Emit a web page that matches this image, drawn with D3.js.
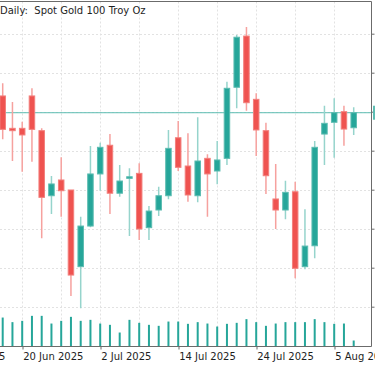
<!DOCTYPE html>
<html>
<head>
<meta charset="utf-8">
<script src="https://cdn.jsdelivr.net/npm/d3@7"></script>
<style>
  html, body { margin: 0; padding: 0; background: #ffffff; }
  svg { display: block; }
  text { font-family: "DejaVu Sans", sans-serif; font-size: 10px; fill: #1e1e1e; }
</style>
</head>
<body>
<div id="chart"></div>
<script>
// daily bars, Spot Gold
var dates = ["2025-06-18", "2025-06-19", "2025-06-20", "2025-06-23", "2025-06-24", "2025-06-25", "2025-06-26",
    "2025-06-27", "2025-06-30", "2025-07-01", "2025-07-02", "2025-07-03", "2025-07-04", "2025-07-07",
    "2025-07-08", "2025-07-09", "2025-07-10", "2025-07-11", "2025-07-14", "2025-07-15", "2025-07-16",
    "2025-07-17", "2025-07-18", "2025-07-21", "2025-07-22", "2025-07-23", "2025-07-24", "2025-07-25",
    "2025-07-28", "2025-07-29", "2025-07-30", "2025-07-31", "2025-08-01", "2025-08-04", "2025-08-05",
    "2025-08-06", "2025-08-07"];

var opens = [3392.2, 3370.2, 3370.2, 3392.2, 3368.6, 3324.4, 3335.1, 3328.3, 3276.2, 3303.8, 3339.2, 3358.7,
    3326.1, 3336.2, 3339.6, 3302.7, 3314.7, 3324.4, 3363.8, 3344.6, 3324.4, 3349.8, 3341.2, 3349.8, 3398.1,
    3432.9, 3389.9, 3368.6, 3322.2, 3314.7, 3327.1, 3276.2, 3290.4, 3366.3, 3374.3, 3381.5, 3370.6];
var highs = [3400.8, 3388.1, 3374.7, 3397.4, 3370.2, 3337.8, 3350.5, 3328.3, 3310.2, 3358.2, 3360.4, 3366.3,
    3345.3, 3343.0, 3346.4, 3317.4, 3330.5, 3369.1, 3375.2, 3366.8, 3377.7, 3352.6, 3361.6, 3401.9, 3433.6,
    3439.1, 3394.0, 3374.0, 3346.0, 3334.6, 3333.9, 3315.2, 3361.6, 3385.6, 3390.6, 3385.6, 3384.5];
var lows = [3362.8, 3348.0, 3340.7, 3347.5, 3295.5, 3312.0, 3310.2, 3256.3, 3247.9, 3302.9, 3327.8, 3312.0,
    3323.7, 3297.0, 3294.3, 3294.3, 3310.6, 3322.0, 3341.2, 3320.3, 3319.9, 3310.2, 3332.2, 3345.3, 3383.8,
    3382.2, 3351.4, 3325.6, 3301.8, 3308.4, 3268.3, 3274.4, 3281.9, 3345.3, 3350.2, 3358.4, 3365.7];
var closes = [3369.5, 3368.6, 3365.7, 3369.5, 3323.3, 3332.4, 3327.8, 3270.5, 3303.8, 3339.2, 3357.3, 3326.1,
    3334.4, 3337.3, 3301.8, 3314.0, 3324.4, 3356.6, 3343.7, 3324.9, 3348.0, 3339.2, 3348.7, 3397.4, 3432.1,
    3387.6, 3369.1, 3338.0, 3314.7, 3326.7, 3275.1, 3290.2, 3357.3, 3373.6, 3380.8, 3369.7, 3380.8];
var volumes = [116000, 97600, 102800, 122800, 122800, 92000, 102800, 118800, 102800, 106800, 92000, 86800,
    56000, 106800, 94800, 86800, 82800, 100000, 100000, 90800, 97600, 92000, 80000, 90800, 94800, 109600,
    97600, 82800, 92000, 97600, 97600, 97600, 109600, 97600, 90800, 92000, 24000];

// bar index of each date label (10 Jun sits left of the first bar)
var labelIndex = [-6, 2, 10, 18, 26, 34];
var labelText = ["10 Jun 2025", "20 Jun 2025", "2 Jul 2025", "14 Jul 2025", "24 Jul 2025", "5 Aug 2025"];
var gridPrices = [3434.5, 3408, 3381.5, 3355, 3328.5, 3302, 3275.5, 3249];
var gridIndex = [-2, 2, 6, 10, 14, 18, 22, 26, 30, 34];

var chartTitle = "Daily:  Spot Gold 100 Troy Oz";

var svgWidth = 375;
var svgHeight = 366;
var plot = { left: 0, top: 1.5, right: 371.5, bottom: 346.5 };

var upColor = "#26a69a";
var downColor = "#ef5350";

var bars = dates.map(function(d, i) {
    return { date: d, i: i, open: opens[i], high: highs[i], low: lows[i], close: closes[i], volume: volumes[i] };
});

var svg = d3.select("#chart")
    .append("svg")
    .attr("width", svgWidth)
    .attr("height", svgHeight);

var xScale = d3.scaleLinear()
    .domain([0, 36])
    .range([2.7, 353.7]);

var yScale = d3.scaleLinear()
    .domain([3230, 3460])
    .range([334.66, -3.83]);

var volScale = d3.scaleLinear()
    .domain([0, 125000])
    .range([plot.bottom, plot.bottom - 31.2]);

svg.append("defs").append("clipPath")
    .attr("id", "plotClip")
    .append("rect")
    .attr("x", plot.left)
    .attr("y", plot.top)
    .attr("width", plot.right - plot.left)
    .attr("height", plot.bottom - plot.top);

var chartGroup = svg.append("g").attr("clip-path", "url(#plotClip)");

// dotted grid
chartGroup.selectAll(".hgrid")
    .data(gridPrices)
    .enter()
    .append("line")
    .attr("class", "hgrid")
    .attr("x1", plot.left)
    .attr("x2", plot.right)
    .attr("y1", d => Math.round(yScale(d)) + 0.5)
    .attr("y2", d => Math.round(yScale(d)) + 0.5)
    .attr("stroke", "#e2e2e2")
    .attr("stroke-dasharray", "2,2");

chartGroup.selectAll(".vgrid")
    .data(gridIndex)
    .enter()
    .append("line")
    .attr("class", "vgrid")
    .attr("x1", d => Math.round(xScale(d)) + 0.5)
    .attr("x2", d => Math.round(xScale(d)) + 0.5)
    .attr("y1", plot.top)
    .attr("y2", plot.bottom)
    .attr("stroke", "#e2e2e2")
    .attr("stroke-dasharray", "2,2");

// tick volumes
chartGroup.selectAll(".vol")
    .data(bars)
    .enter()
    .append("rect")
    .attr("class", "vol")
    .attr("x", d => xScale(d.i) - 1)
    .attr("y", d => volScale(d.volume))
    .attr("width", 2)
    .attr("height", d => plot.bottom - volScale(d.volume))
    .attr("fill", upColor);

// bid line
var lastClose = closes[closes.length - 1];
chartGroup.append("line")
    .attr("x1", plot.left)
    .attr("x2", plot.right)
    .attr("y1", yScale(lastClose))
    .attr("y2", yScale(lastClose))
    .attr("stroke", "#5dbdb3")
    .attr("stroke-width", 1);

// candles
var candles = chartGroup.selectAll(".candle")
    .data(bars)
    .enter()
    .append("g")
    .attr("class", "candle");

candles.append("line")
    .attr("x1", d => xScale(d.i))
    .attr("x2", d => xScale(d.i))
    .attr("y1", d => yScale(d.high))
    .attr("y2", d => yScale(d.low))
    .attr("stroke", d => d.close >= d.open ? "#96d4cc" : "#f6a19e")
    .attr("stroke-width", 1.5);

candles.append("rect")
    .attr("x", d => xScale(d.i) - 2.75)
    .attr("y", d => yScale(Math.max(d.open, d.close)))
    .attr("width", 5.5)
    .attr("height", d => Math.max(1, yScale(Math.min(d.open, d.close)) - yScale(Math.max(d.open, d.close))))
    .attr("fill", d => d.close >= d.open ? upColor : downColor)
    .attr("stroke", d => d.close >= d.open ? "#5cbcb1" : "#f37f7c")
    .attr("stroke-width", 1);

// frame and axes
var rightAxis = d3.axisRight(yScale)
    .tickValues(gridPrices)
    .tickSize(3)
    .tickFormat("");

svg.append("g")
    .attr("transform", `translate(${plot.right}, 0)`)
    .call(rightAxis)
    .call(g => g.select(".domain").remove())
    .selectAll("line")
    .attr("stroke", "#6b6b6b");

var bottomAxis = d3.axisBottom(xScale)
    .tickValues(labelIndex)
    .tickSize(3)
    .tickFormat((d, i) => labelText[i]);

var xaxis = svg.append("g")
    .attr("transform", `translate(0, ${plot.bottom})`)
    .call(bottomAxis);

xaxis.select(".domain").remove();
xaxis.selectAll("line")
    .attr("stroke", "#6b6b6b")
    .attr("transform", "translate(0.3, 0)");
xaxis.selectAll("text")
    .attr("text-anchor", "start")
    .attr("x", 0.5)
    .attr("y", 4)
    .attr("dy", "0.9em")
    .style("font-family", "'DejaVu Sans', sans-serif")
    .style("font-size", "10px")
    .style("fill", "#1e1e1e");

svg.append("path")
    .attr("d", `M0,${plot.top}H${plot.right}V${plot.bottom}H0`)
    .attr("fill", "none")
    .attr("stroke", "#6b6b6b")
    .attr("stroke-width", 1);

// bid price tag, mostly off the right edge
svg.append("rect")
    .attr("x", plot.right + 1.5)
    .attr("y", yScale(lastClose) - 7)
    .attr("width", 6)
    .attr("height", 14)
    .attr("fill", "#5dbdb3");

svg.append("text")
    .attr("x", 0)
    .attr("y", 14)
    .attr("xml:space", "preserve")
    .style("white-space", "pre")
    .text(chartTitle);
</script>
</body>
</html>
